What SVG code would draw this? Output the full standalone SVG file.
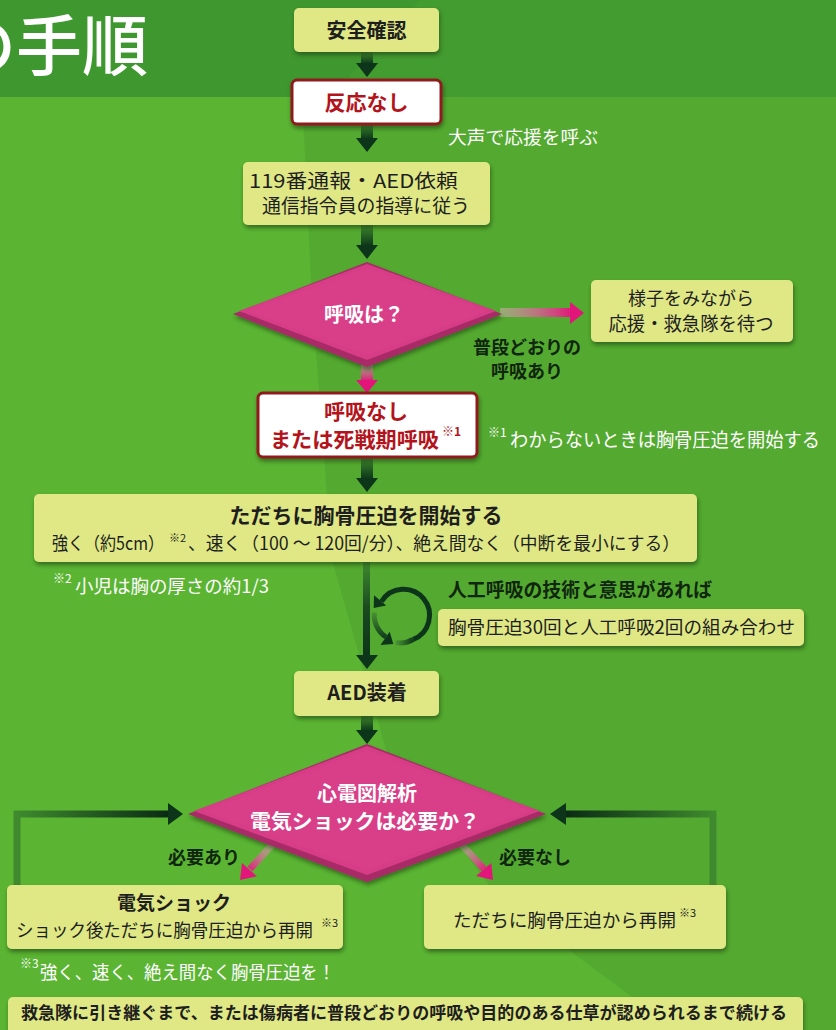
<svg xmlns="http://www.w3.org/2000/svg" width="836" height="1030" viewBox="0 0 836 1030">
<defs>
<style>
text{font-family:"Noto Sans CJK JP","Noto Sans",sans-serif;}
.box{fill:#dfe884;filter:url(#sh);}
.wbox{fill:#ffffff;stroke:#8e1a1f;stroke-width:3;filter:url(#sh);}
.dk{fill:#1e1e1e;}
.b{font-weight:700;}
.red{fill:#b3141c;font-weight:700;}
.wt{fill:#ffffff;}
.lbl{fill:#10260f;font-weight:700;}
.head{fill:#0c3519;}
.phead{fill:#e2157a;}
</style>
<filter id="sh" x="-10%" y="-20%" width="120%" height="150%">
<feDropShadow dx="1" dy="3" stdDeviation="2" flood-color="#1b3a0e" flood-opacity="0.6"/>
</filter>
<linearGradient id="vg" x1="0" y1="0" x2="0" y2="1">
<stop offset="0" stop-color="#3f8a2e"/>
<stop offset="1" stop-color="#0c3519"/>
</linearGradient>
<linearGradient id="pv" x1="0" y1="0" x2="0" y2="1">
<stop offset="0" stop-color="#c9a0a8" stop-opacity="0.6"/>
<stop offset="1" stop-color="#e2157a"/>
</linearGradient>
<linearGradient id="ph" x1="0" y1="0" x2="1" y2="0">
<stop offset="0" stop-color="#d8b0b8" stop-opacity="0.5"/>
<stop offset="1" stop-color="#e2157a"/>
</linearGradient>
<linearGradient id="pl" gradientUnits="userSpaceOnUse" x1="272" y1="845" x2="248" y2="871">
<stop offset="0" stop-color="#d8b0b8" stop-opacity="0.5"/>
<stop offset="1" stop-color="#e2157a"/>
</linearGradient>
<linearGradient id="pr" gradientUnits="userSpaceOnUse" x1="462" y1="845" x2="486" y2="871">
<stop offset="0" stop-color="#d8b0b8" stop-opacity="0.5"/>
<stop offset="1" stop-color="#e2157a"/>
</linearGradient>
<linearGradient id="gl" gradientUnits="userSpaceOnUse" x1="17" y1="0" x2="170" y2="0">
<stop offset="0" stop-color="#3f8a2e"/>
<stop offset="1" stop-color="#0a2a14"/>
</linearGradient>
<linearGradient id="gr" gradientUnits="userSpaceOnUse" x1="713" y1="0" x2="565" y2="0">
<stop offset="0" stop-color="#3f8a2e"/>
<stop offset="1" stop-color="#0a2a14"/>
</linearGradient>
<linearGradient id="gm" gradientUnits="userSpaceOnUse" x1="0" y1="562" x2="0" y2="655">
<stop offset="0" stop-color="#3f8a2e"/>
<stop offset="0.5" stop-color="#1a4a20"/>
<stop offset="1" stop-color="#0c3519"/>
</linearGradient>
<linearGradient id="cb" gradientUnits="userSpaceOnUse" x1="0" y1="610" x2="0" y2="640">
<stop offset="0" stop-color="#4e9a36"/>
<stop offset="1" stop-color="#0c3519"/>
</linearGradient>
<linearGradient id="ca" gradientUnits="userSpaceOnUse" x1="414" y1="0" x2="395" y2="0">
<stop offset="0" stop-color="#0c3519"/>
<stop offset="1" stop-color="#4e9a36"/>
</linearGradient>
</defs>

<!-- background -->
<rect x="0" y="0" width="836" height="1030" fill="#54aa30"/>
<polygon points="0,97 302,97 312,300 332,560 386,750 498,897 632,997 700,1030 0,1030" fill="#5bb533"/>
<rect x="0" y="0" width="836" height="97" fill="#3f972f"/>
<polygon points="420,0 836,0 836,97 330,97" fill="#439c30"/>
<text x="-50" y="70" font-size="66" fill="#ffffff" font-weight="500">の手順</text>

<!-- connectors -->
<g id="connectors">
<rect x="361" y="52" width="12" height="12" fill="url(#vg)"/>
<polygon class="head" points="356,63 378,63 367,77"/>
<rect x="361" y="124" width="12" height="15" fill="url(#vg)"/>
<polygon class="head" points="356,138 378,138 367,152"/>
<rect x="361" y="225" width="12" height="21" fill="url(#vg)"/>
<polygon class="head" points="356,245 378,245 367,259"/>
<rect x="361" y="365" width="12" height="16" fill="url(#pv)"/>
<polygon class="phead" points="356,380 378,380 367,393"/>
<rect x="500" y="308" width="72" height="9" fill="url(#ph)"/>
<polygon class="phead" points="570,302 570,324 584,313"/>
<rect x="361" y="457" width="12" height="22" fill="url(#vg)"/>
<polygon class="head" points="356,478 378,478 367,492"/>
<rect x="363" y="562" width="7" height="94" fill="url(#gm)"/>
<polygon class="head" points="356,655 378,655 367,669"/>
<rect x="361" y="716" width="12" height="15" fill="url(#vg)"/>
<polygon class="head" points="356,730 378,730 367,744"/>
<path d="M17,893 V814 H170" fill="none" stroke="url(#gl)" stroke-width="7"/>
<polygon class="head" points="168,803 168,825 183,814"/>
<path d="M713,893 V814 H565" fill="none" stroke="url(#gr)" stroke-width="7"/>
<polygon class="head" points="566,803 566,825 550,814"/>
<line x1="272" y1="845" x2="250" y2="869" stroke="url(#pl)" stroke-width="7"/>
<polygon class="phead" points="256.8,876.3 242,862.9 240,880"/>
<line x1="462" y1="845" x2="484" y2="869" stroke="url(#pr)" stroke-width="7"/>
<polygon class="phead" points="491.2,862.9 476.2,876.1 493,880"/>
<!-- cycle icon -->
<path d="M381.5,601.5 A26,26 0 1,1 413,639.5" fill="none" stroke="#0c3519" stroke-width="5"/>
<path d="M413,639.5 A26,26 0 0,1 395.5,642.6" fill="none" stroke="url(#ca)" stroke-width="5"/>
<polygon class="head" points="386.2,605.4 374,595.2 373.7,608"/>
<path d="M374.4,612.5 A26,26 0 0,0 386,637" fill="none" stroke="url(#cb)" stroke-width="5"/>
<polygon class="head" points="380.5,644.9 389.7,631.7 393.3,644"/>
</g>

<!-- nodes -->
<g id="n-safety">
<rect class="box" x="294" y="8" width="145" height="44" rx="5"/>
<text class="dk b" x="366.5" y="38" font-size="20" text-anchor="middle">安全確認</text>
</g>
<g id="n-noresponse">
<rect class="wbox" x="292" y="80" width="149" height="44" rx="5"/>
<text class="red" x="366.5" y="110" font-size="21" text-anchor="middle">反応なし</text>
</g>
<text id="t-shout" class="wt" x="448" y="144" font-size="18" textLength="150" lengthAdjust="spacingAndGlyphs">大声で応援を呼ぶ</text>
<g id="n-119">
<rect class="box" x="243" y="162" width="247" height="63" rx="5"/>
<text class="dk" font-size="19"><tspan x="249" y="188" textLength="209" lengthAdjust="spacingAndGlyphs">119番通報・AED依頼</tspan><tspan x="262" y="213" textLength="208" lengthAdjust="spacingAndGlyphs">通信指令員の指導に従う</tspan></text>
</g>
<g id="n-breath">
<polygon points="233,314 367,262 502,314 367,367" fill="#a82c66" filter="url(#sh)"/>
<polygon points="239,311 367,264 496,311 367,360" fill="#d63d86"/>
<polygon points="247,311 367,268 488,311 367,355" fill="#d93f88"/>
<text class="wt b" x="364" y="322" font-size="20" text-anchor="middle">呼吸は？</text>
</g>
<g id="n-wait">
<rect class="box" x="591" y="280" width="202" height="62" rx="5"/>
<text class="dk" text-anchor="middle"><tspan x="691" y="305" font-size="18">様子をみながら</tspan><tspan x="691" y="331" font-size="19" textLength="165" lengthAdjust="spacingAndGlyphs">応援・救急隊を待つ</tspan></text>
</g>
<text class="lbl" font-size="18" text-anchor="middle"><tspan x="527" y="354">普段どおりの</tspan><tspan x="527" y="378">呼吸あり</tspan></text>
<g id="n-nobreath">
<rect class="wbox" x="258" y="393" width="219" height="64" rx="5"/>
<text class="red" font-size="21"><tspan x="366" y="419" text-anchor="middle">呼吸なし</tspan><tspan x="270" y="447" textLength="169" lengthAdjust="spacingAndGlyphs">または死戦期呼吸</tspan><tspan x="442" y="436" font-size="12">※1</tspan></text>
</g>
<text class="wt"><tspan x="488" y="437" font-size="12">※1</tspan><tspan x="510" y="447" font-size="19" textLength="310" lengthAdjust="spacingAndGlyphs">わからないときは胸骨圧迫を開始する</tspan></text>
<g id="n-cpr">
<rect class="box" x="34" y="494" width="663" height="68" rx="5"/>
<text class="dk" font-size="18"><tspan class="b" x="366" y="523" font-size="21" text-anchor="middle">ただちに胸骨圧迫を開始する</tspan><tspan x="52" y="550" textLength="112" lengthAdjust="spacingAndGlyphs">強く（約5cm）</tspan><tspan x="169" y="542" font-size="11">※2</tspan><tspan x="188" y="550" textLength="492" lengthAdjust="spacingAndGlyphs">、速く（100 ～ 120回/分）、絶え間なく（中断を最小にする）</tspan></text>
</g>
<text class="wt"><tspan x="53" y="583" font-size="12">※2</tspan><tspan x="75" y="593" font-size="18" textLength="194" lengthAdjust="spacingAndGlyphs">小児は胸の厚さの約1/3</tspan></text>
<text class="lbl" x="448" y="597" font-size="19" textLength="264" lengthAdjust="spacingAndGlyphs">人工呼吸の技術と意思があれば</text>
<g id="n-combo">
<rect class="box" x="438" y="609" width="366" height="37" rx="5"/>
<text class="dk" x="448" y="634" font-size="18" textLength="347" lengthAdjust="spacingAndGlyphs">胸骨圧迫30回と人工呼吸2回の組み合わせ</text>
</g>
<g id="n-aed">
<rect class="box" x="294" y="671" width="145" height="45" rx="5"/>
<text class="dk b" x="367" y="700" font-size="20" text-anchor="middle">AED装着</text>
</g>
<g id="n-ecg">
<polygon points="188,814 367,744 546,814 367,882" fill="#a82c66" filter="url(#sh)"/>
<polygon points="194,811 367,746 540,811 367,875" fill="#d63d86"/>
<polygon points="203,811 367,750 531,811 367,870" fill="#d93f88"/>
<text class="wt b" font-size="20" text-anchor="middle"><tspan x="367" y="801">心電図解析</tspan><tspan x="365" y="829" textLength="230" lengthAdjust="spacingAndGlyphs">電気ショックは必要か？</tspan></text>
</g>
<text class="lbl" x="204" y="864" font-size="18" text-anchor="middle">必要あり</text>
<text class="lbl" x="535" y="864" font-size="18" text-anchor="middle">必要なし</text>
<g id="n-shock">
<rect class="box" x="7" y="885" width="336" height="64" rx="5"/>
<text class="dk" font-size="18"><tspan class="b" x="174" y="910" font-size="19" text-anchor="middle">電気ショック</tspan><tspan x="16" y="937" textLength="297" lengthAdjust="spacingAndGlyphs">ショック後ただちに胸骨圧迫から再開</tspan><tspan x="321" y="927" font-size="11">※3</tspan></text>
</g>
<g id="n-resume">
<rect class="box" x="424" y="885" width="302" height="64" rx="5"/>
<text class="dk"><tspan x="453" y="927" font-size="18" textLength="223" lengthAdjust="spacingAndGlyphs">ただちに胸骨圧迫から再開</tspan><tspan x="679" y="917" font-size="11">※3</tspan></text>
</g>
<text class="wt"><tspan x="20" y="968" font-size="12">※3</tspan><tspan x="40" y="979" font-size="18" textLength="295" lengthAdjust="spacingAndGlyphs">強く、速く、絶え間なく胸骨圧迫を！</tspan></text>
<g id="n-continue">
<rect class="box" x="8" y="997" width="795" height="45" rx="5"/>
<text class="dk b" x="21" y="1019" font-size="17" textLength="766" lengthAdjust="spacingAndGlyphs">救急隊に引き継ぐまで、または傷病者に普段どおりの呼吸や目的のある仕草が認められるまで続ける</text>
</g>
</svg>
